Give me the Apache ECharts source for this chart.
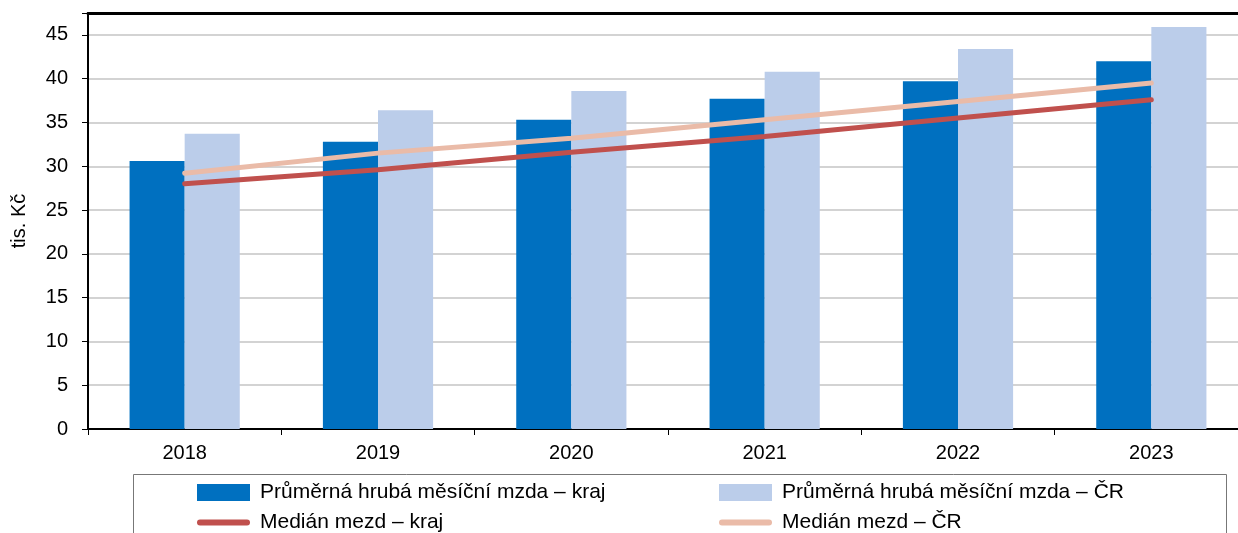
<!DOCTYPE html>
<html>
<head>
<meta charset="utf-8">
<script src="https://cdn.jsdelivr.net/npm/echarts@6/dist/echarts.min.js"></script>
<style>
  html, body { margin: 0; padding: 0; background: #fff; }
  #chart { width: 1238px; height: 533px; }
</style>
</head>
<body>
<div id="chart"></div>
<script>
var years = ['2018', '2019', '2020', '2021', '2022', '2023']
var mzdaKraj = [30.6, 32.8, 35.3, 37.7, 39.7, 42.0]
var mzdaCR = [33.7, 36.4, 38.6, 40.8, 43.4, 45.9]
var medianKraj = [28.0, 29.6, 31.6, 33.4, 35.5, 37.6]
var medianCR = [29.2, 31.5, 33.2, 35.3, 37.4, 39.5]

var font = 'Liberation Sans, Arial, sans-serif'
var lineIcon = 'path://M3,0 L50,0 A3,3 0 0 1 50,6 L3,6 A3,3 0 0 1 3,0 Z'
var chart = echarts.init(document.getElementById('chart'))

function legendAt(name, left, top, isLine) {
  return {
    data: [name], left: left, top: top, padding: 0,
    icon: isLine ? lineIcon : 'rect',
    itemWidth: 53, itemHeight: isLine ? 6 : 17, itemGap: 0,
    textStyle: { fontFamily: font, fontSize: 21, color: '#000', padding: [0, 0, 0, 5], lineHeight: 21 }
  }
}

chart.setOption({
  animation: false,
  textStyle: { fontFamily: font },
  grid: { left: 88, top: 13, right: -10, bottom: 104, outerBoundsMode: 'none', containLabel: false },
  graphic: [{
    type: 'rect', shape: { x: 133.5, y: 474.5, width: 1093, height: 70 },
    style: { fill: null, stroke: '#777', lineWidth: 1 }
  }],
  legend: [
    legendAt('Průměrná hrubá měsíční mzda – kraj', 197, 482, false),
    legendAt('Průměrná hrubá měsíční mzda – ČR', 719, 482, false),
    legendAt('Medián mezd – kraj', 197, 512, true),
    legendAt('Medián mezd – ČR', 719, 512, true)
  ],
  xAxis: [{
    type: 'category', data: years,
    axisLine: { lineStyle: { color: '#000', width: 2 } },
    axisTick: { show: true, length: 6, lineStyle: { color: '#000', width: 1 } },
    axisLabel: { color: '#000', fontSize: 20, margin: 14 }
  }, {
    type: 'category', data: years, position: 'top',
    axisLine: { lineStyle: { color: '#000', width: 3 } },
    axisTick: { show: false }, axisLabel: { show: false }
  }],
  yAxis: {
    type: 'value', min: 0, max: 47.5, interval: 5,
    name: 'tis. Kč', nameLocation: 'middle', nameGap: 59, nameRotate: 90,
    nameTextStyle: { color: '#000', fontSize: 20 },
    axisLine: { show: true, lineStyle: { color: '#000', width: 2 } },
    axisTick: { show: true, length: 6, lineStyle: { color: '#000' } },
    axisLabel: {
      color: '#000', fontSize: 20, margin: 20,
      formatter: function (v) { return v % 5 === 0 ? String(v) : '' }
    },
    splitLine: { lineStyle: { color: '#c4c4c4', width: 1.5 } }
  },
  series: [
    { name: 'Průměrná hrubá měsíční mzda – kraj', type: 'bar', data: mzdaKraj,
      barGap: '0%', barCategoryGap: '43%', itemStyle: { color: '#0070c0' } },
    { name: 'Průměrná hrubá měsíční mzda – ČR', type: 'bar', data: mzdaCR,
      itemStyle: { color: '#bbcdea' } },
    { name: 'Medián mezd – kraj', type: 'line', data: medianKraj, symbol: 'none',
      lineStyle: { color: '#c0504d', width: 5, cap: 'round' }, itemStyle: { color: '#c0504d' } },
    { name: 'Medián mezd – ČR', type: 'line', data: medianCR, symbol: 'none',
      lineStyle: { color: '#eabba8', width: 5, cap: 'round' }, itemStyle: { color: '#eabba8' } }
  ]
})
</script>
</body>
</html>
